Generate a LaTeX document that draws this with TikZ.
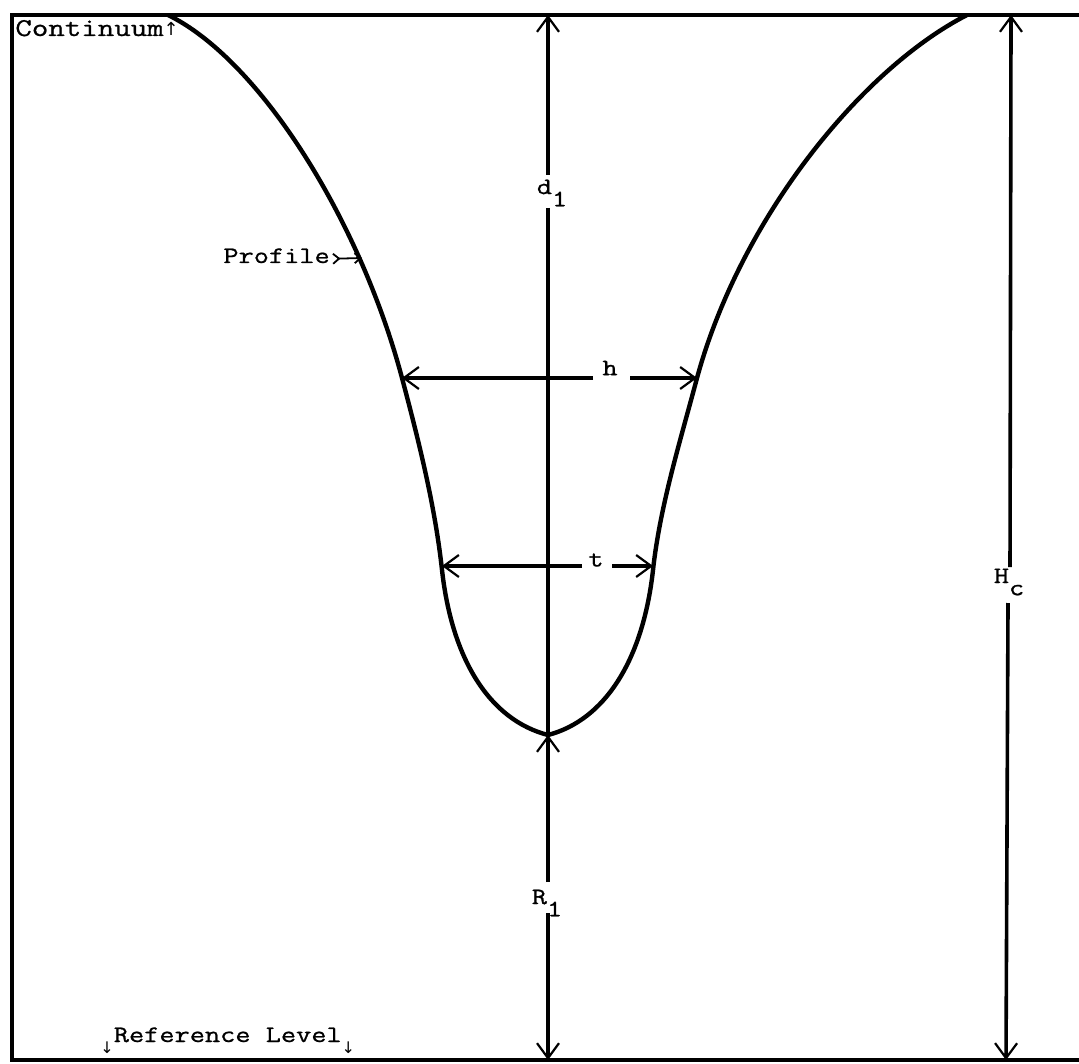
\documentclass[tikz,border=0pt]{standalone}
\usepackage{fontspec}
\newfontfamily\tw{Latin Modern Mono}[FakeBold=0.9,FakeStretch=1.25]
\newfontfamily\symf{DejaVu Sans}
\usetikzlibrary{arrows.meta}
\begin{document}
\begin{tikzpicture}[x=0.5pt,y=-0.5pt,
  lbl/.style={font=\tw\fontsize{11.8}{13}\selectfont, inner sep=0pt},
  frame/.style={line width=1.8pt},
  prof/.style={line width=2.2pt, line join=round},
  tipb/.tip={Straight Barb[length=7.5pt,width=11pt,line width=1.1pt]},
  dim/.style={line width=1.8pt}]
\useasboundingbox (0,0) rectangle (1079,1063);
% frame
\draw[frame] (1079,15) -- (12,15) -- (12,1060) -- (1079,1060);
% profile
\draw[prof] (168,15) .. controls (260,60) and (360,220) .. (402,378)
  .. controls (419,442) and (435,506) .. (442,570)
  .. controls (452,660) and (490,720) .. (548,735)
  .. controls (605,720) and (643,660) .. (653,570)
  .. controls (660,506) and (680,442) .. (697,378)
  .. controls (740,220) and (860,70) .. (967,15);
% labels
\node[lbl, anchor=base west, font=\tw\fontsize{12.8}{14}\selectfont] (cont) at (15,36) {Continuum{\symf\fontsize{9}{9}\selectfont ↑}};
\node[lbl, anchor=base west] (profl) at (223,263) {Profile};
\coordinate (pc) at (362,258);
\draw[line width=0.9pt, {Straight Barb[reversed,length=3pt,width=5pt]}-{Straight Barb[length=3pt,width=5pt]}] (profl.east) ++(1pt,-1.5pt) -- (pc);
\node[lbl, anchor=base west] (ref) at (100,1042) {\raisebox{-1.1ex}{\symf\fontsize{8}{8}\selectfont ↓}Reference Level\raisebox{-1.1ex}{\symf\fontsize{8}{8}\selectfont ↓}};
% d1
\node[lbl] (d1) at (552,193) {d\raisebox{-1.2ex}{1}};
\coordinate (d1top) at (548,15);
\coordinate (bot) at (548,735);
\draw[dim, -{tipb}] (548,175) -- (d1top);
\draw[dim] (548,208) -- (bot);
% R1
\node[lbl] (r1) at (547,903) {R\raisebox{-1.2ex}{1}};
\coordinate (refbot) at (548,1060);
\draw[dim, -{tipb}] (548,882) -- (bot);
\draw[dim, -{tipb}] (548,913) -- (refbot);
% Hc
\node[lbl] (hc) at (1009,582) {H\raisebox{-1.2ex}{c}};
\coordinate (hctop) at (1011,15);
\coordinate (hcbot) at (1006,1060);
\draw[dim, -{tipb}] (1010,567) -- (hctop);
\draw[dim, -{tipb}] (1008,603) -- (hcbot);
% h
\node[lbl] (h) at (610,368) {h};
\coordinate (hl) at (402,378);
\coordinate (hr) at (697,378);
\draw[dim, -{tipb}] (593,378) -- (hl);
\draw[dim, -{tipb}] (630,378) -- (hr);
% t
\node[lbl] (t) at (596,560) {t};
\coordinate (tl) at (442,566);
\coordinate (tr) at (653,566);
\draw[dim, -{tipb}] (582,566) -- (tl);
\draw[dim, -{tipb}] (612,566) -- (tr);
\end{tikzpicture}
\end{document}
